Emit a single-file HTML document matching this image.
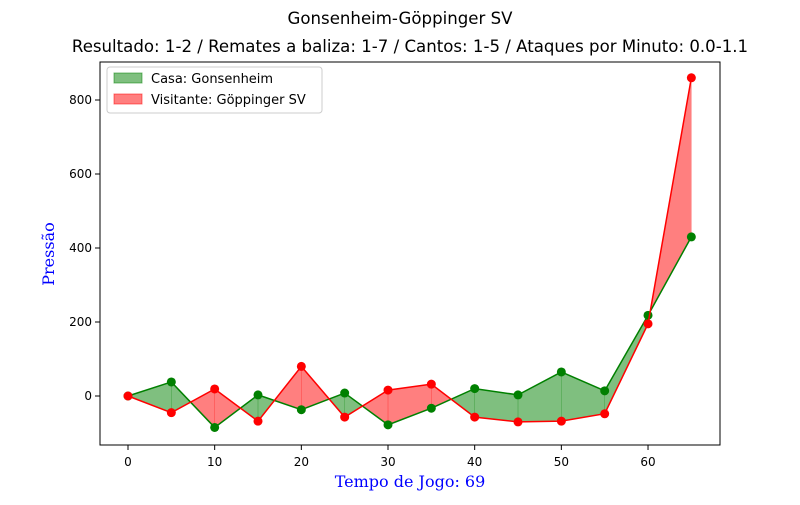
<!DOCTYPE html>
<html><head><meta charset="utf-8"><style>
body{margin:0;background:#fff;}
svg text{font-family:"DejaVu Sans","Liberation Sans",sans-serif;}
</style></head><body>
<svg id="c" width="800" height="500" viewBox="0 0 800 500" xmlns="http://www.w3.org/2000/svg">
<text x="400" y="24" text-anchor="middle" font-size="16.6">Gonsenheim-Göppinger SV</text>
<text x="410" y="52" text-anchor="middle" font-size="16.6">Resultado: 1-2 / Remates a baliza: 1-7 / Cantos: 1-5 / Ataques por Minuto: 0.0-1.1</text>
<g id="fills"></g><g id="lines"></g><g id="axes"></g>
<rect x="100" y="62" width="620" height="383" fill="none" stroke="#000" stroke-width="1"/>
<text x="410" y="487" text-anchor="middle" font-size="16" fill="blue" style="font-family:'DejaVu Serif','Liberation Serif',serif">Tempo de Jogo: 69</text>
<text transform="translate(54,254) rotate(-90)" text-anchor="middle" font-size="16" fill="blue" style="font-family:'DejaVu Serif','Liberation Serif',serif">Pressão</text>
<g>
<rect x="107" y="67" width="215" height="46" rx="3" fill="#fff" stroke="#ccc"/>
<rect x="114" y="73" width="28" height="10" fill="green" fill-opacity="0.5" stroke="green" stroke-opacity="0.5"/>
<text x="151" y="83" font-size="13">Casa: Gonsenheim</text>
<rect x="114" y="94" width="28" height="10" fill="red" fill-opacity="0.5" stroke="red" stroke-opacity="0.5"/>
<text x="151" y="104" font-size="13">Visitante: Göppinger SV</text>
</g>
</svg>
<script>
const minutes=[0,5,10,15,20,25,30,35,40,45,50,55,60,65];
const homeVals=[0,38,-85,3,-37,8,-78,-33,20,3,65,14,218,430];
const awayVals=[0,-45,19,-68,80,-57,16,32,-57,-70,-68,-48,195,860];
const xTicks=[0,10,20,30,40,50,60];
const yTicks=[0,200,400,600,800];
const NS="http://www.w3.org/2000/svg";
const X=v=>128+v*8.667, Y=v=>396-v*0.37;
function mk(t,a,p){const e=document.createElementNS(NS,t);for(const k in a)e.setAttribute(k,a[k]);p.appendChild(e);return e;}
const fills=document.getElementById('fills'),lines=document.getElementById('lines'),axes=document.getElementById('axes');
for(let i=0;i<minutes.length-1;i++){
  const x0=minutes[i],x1=minutes[i+1],h0=homeVals[i],h1=homeVals[i+1],a0=awayVals[i],a1=awayVals[i+1];
  const d0=h0-a0,d1=h1-a1;
  let polys=[];
  if(d0*d1<0){const t=d0/(d0-d1);const xc=x0+t*(x1-x0),yc=h0+t*(h1-h0);
    polys.push([[[x0,h0],[xc,yc],[x0,a0]],d0>0]);polys.push([[[xc,yc],[x1,h1],[x1,a1]],d1>0]);}
  else polys.push([[[x0,h0],[x1,h1],[x1,a1],[x0,a0]],(d0+d1)>0]);
  polys.forEach(([pts,home])=>{
    const p=mk('polygon',{points:pts.map(q=>X(q[0])+','+Y(q[1])).join(' '),fill:home?'green':'red','fill-opacity':0.5,stroke:home?'green':'red','stroke-opacity':0.3,'stroke-width':0.5},fills);
    
    
  });
}
[[homeVals,'green','home'],[awayVals,'red','away']].forEach(([vals,col,n])=>{
  const l=mk('polyline',{points:minutes.map((m,i)=>X(m)+','+Y(vals[i])).join(' '),fill:'none',stroke:col,'stroke-width':1.5},lines);
  
  
  minutes.forEach((m,i)=>{const c=mk('circle',{cx:X(m),cy:Y(vals[i]),r:4.5,fill:col},lines);
    
    });
});
xTicks.forEach(v=>{mk('line',{x1:X(v),x2:X(v),y1:445,y2:450,stroke:'#000'},axes);
  const t=mk('text',{x:X(v),y:466,'text-anchor':'middle','font-size':12},axes);t.textContent=v;
  
  });
yTicks.forEach(v=>{mk('line',{x1:95,x2:100,y1:Y(v),y2:Y(v),stroke:'#000'},axes);
  const t=mk('text',{x:92,y:Y(v)+4,'text-anchor':'end','font-size':12},axes);t.textContent=v;
  
  });
</script>
</body></html>
